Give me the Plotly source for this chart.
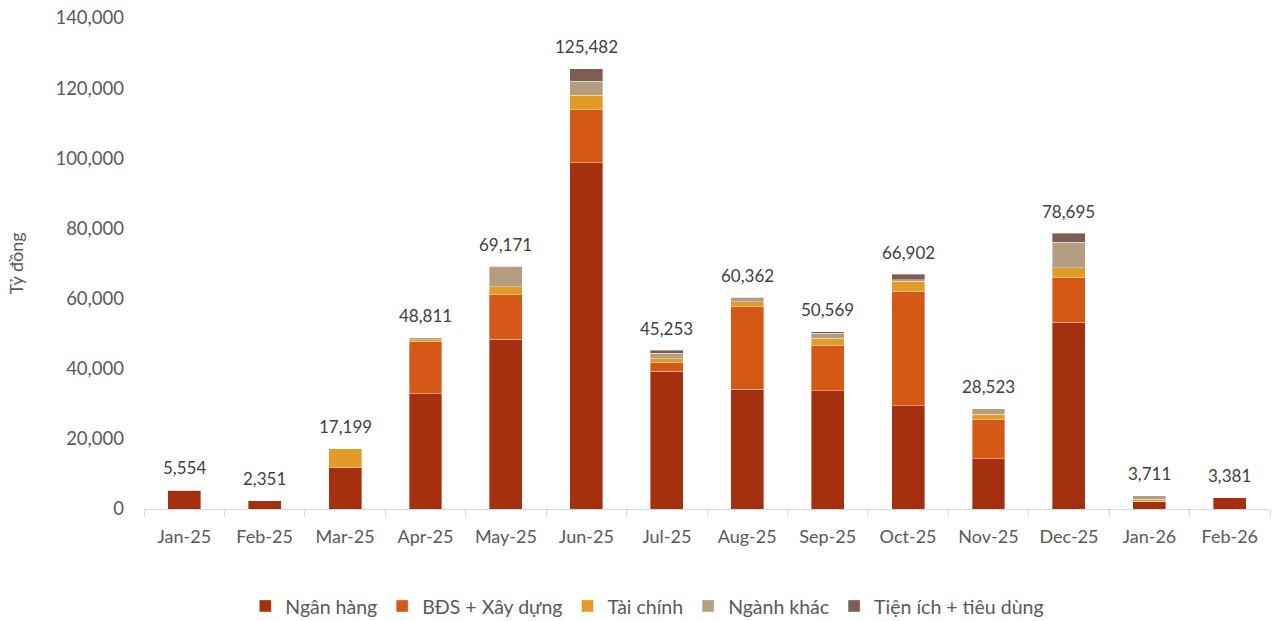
import plotly.graph_objects as go

months = ["Jan-25", "Feb-25", "Mar-25", "Apr-25", "May-25", "Jun-25", "Jul-25",
          "Aug-25", "Sep-25", "Oct-25", "Nov-25", "Dec-25", "Jan-26", "Feb-26"]

ngan_hang = [5300, 2351, 11700, 32900, 48400, 98700, 39300, 34100, 33700, 29400, 14300, 53200, 2200, 3381]
bds_xay_dung = [0, 0, 0, 14800, 12700, 15200, 2400, 23600, 13000, 32500, 11100, 12800, 0, 0]
tai_chinh = [254, 0, 5499, 600, 2300, 4100, 1200, 1400, 2000, 3100, 1600, 2800, 650, 0]
nganh_khac = [0, 0, 0, 511, 5771, 4000, 1553, 1262, 1469, 302, 1523, 7300, 861, 0]
tien_ich = [0, 0, 0, 0, 0, 3482, 800, 0, 400, 1600, 0, 2595, 0, 0]

totals = [5554, 2351, 17199, 48811, 69171, 125482, 45253, 60362, 50569, 66902, 28523, 78695, 3711, 3381]

series = [
    ("Ngân hàng", ngan_hang, "#A5300F"),
    ("BĐS + Xây dựng", bds_xay_dung, "#D55817"),
    ("Tài chính", tai_chinh, "#E39B27"),
    ("Ngành khác", nganh_khac, "#B39E80"),
    ("Tiện ích + tiêu dùng", tien_ich, "#7E5E52"),
]

FONT = "Lato, Carlito, Calibri, sans-serif"

fig = go.Figure()
for name, vals, color in series:
    fig.add_trace(go.Bar(
        x=months, y=vals, name=name,
        marker=dict(color=color, line=dict(color="rgba(255,255,255,0.6)", width=0.6)),
    ))

for m, t in zip(months, totals):
    fig.add_annotation(x=m, y=t, text=f"{t:,}", showarrow=False,
                       yshift=22, font=dict(size=17, color="#404040", family=FONT))

fig.update_layout(
    barmode="stack",
    bargap=0.59,
    width=1284, height=621,
    margin=dict(l=144, r=14, t=18, b=112, autoexpand=False),
    paper_bgcolor="white", plot_bgcolor="white",
    font=dict(family=FONT, size=18, color="#595959"),
    legend=dict(orientation="h", x=0.447, xanchor="center", y=-0.198, yanchor="middle",
                traceorder="normal",
                font=dict(size=19.5, color="#595959"), itemwidth=30, tracegroupgap=0),
    showlegend=True,
)
fig.update_xaxes(
    type="category", showline=True, linecolor="#D9D9D9", linewidth=1,
    ticks="outside", tickson="boundaries", ticklen=7, tickcolor="#D9D9D9",
    showgrid=False, tickfont=dict(size=18, color="#595959"), ticklabelstandoff=11,
)
fig.update_yaxes(
    range=[0, 140000], dtick=20000, tickformat=",", showgrid=False, zeroline=False,
    showline=False, ticks="", ticklabelstandoff=19,
    tickfont=dict(size=18.5, color="#595959"),
    title=dict(text="Tỷ đồng", font=dict(size=18, color="#595959"), standoff=27),
)

fig.write_html("out.html")
